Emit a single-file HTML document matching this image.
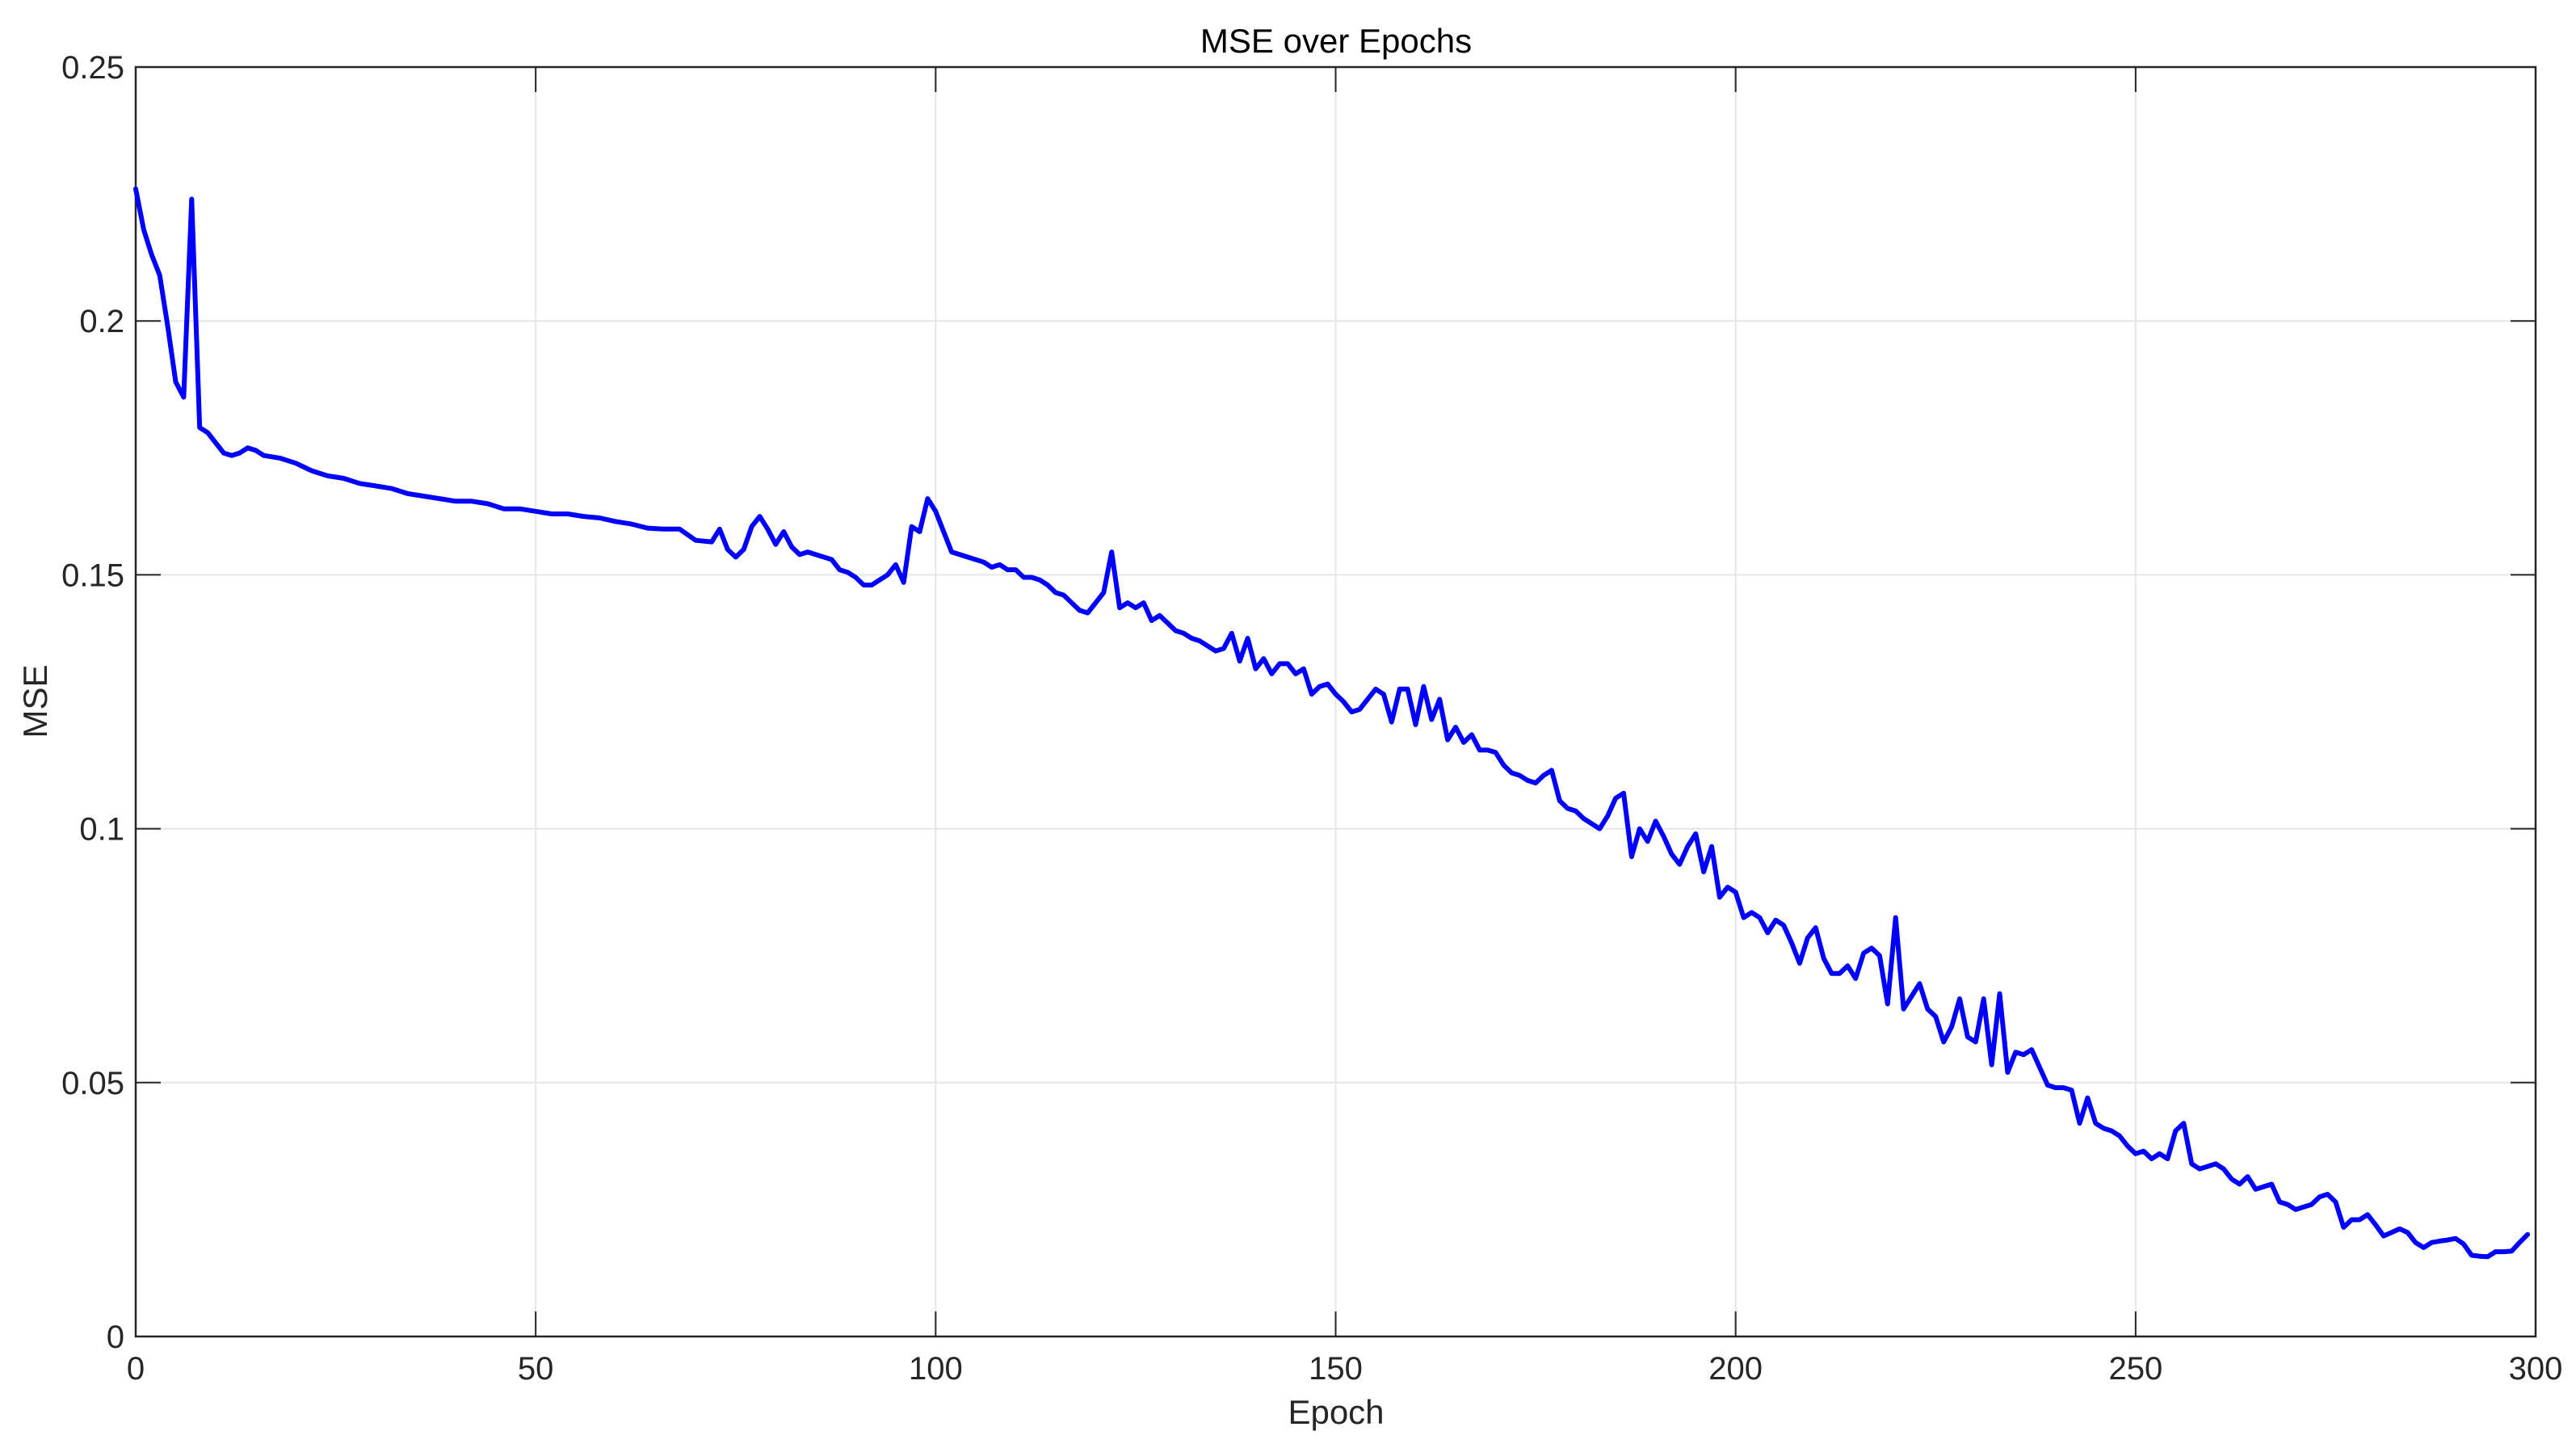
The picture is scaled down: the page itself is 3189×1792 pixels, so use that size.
<!DOCTYPE html>
<html><head><meta charset="utf-8"><style>
html,body{margin:0;padding:0;background:#fff;}
svg{display:block;font-family:"Liberation Sans",sans-serif;}
</style></head><body>
<svg id="s" width="3189" height="1792" xmlns="http://www.w3.org/2000/svg">
<rect width="3189" height="1792" fill="#fff"/>
<g id="grid" stroke="#e6e6e6" stroke-width="2"></g>
<g id="ticks" stroke="#262626" stroke-width="2"></g>
<rect x="168" y="83" width="2971" height="1571" fill="none" stroke="#262626" stroke-width="2.5"/>
<g id="labels" fill="#262626" font-size="40"></g>
<polyline id="line" fill="none" stroke="#0000ff" stroke-width="6" stroke-linejoin="round" stroke-linecap="round"/>
<text x="1654" y="65" font-size="42" text-anchor="middle" fill="#000">MSE over Epochs</text>
<text x="1654" y="1762" font-size="42" text-anchor="middle" fill="#262626">Epoch</text>
<text transform="translate(58,868) rotate(-90)" font-size="42" text-anchor="middle" fill="#262626">MSE</text>
</svg>
<script>
var L=168,R=3139,T=83,B=1654;
function X(e){return L+(R-L)*e/300;}
function Y(v){return B-(B-T)*v/0.25;}
var ns="http://www.w3.org/2000/svg";
function el(p,t,a,txt){var e=document.createElementNS(ns,t);for(var k in a)e.setAttribute(k,a[k]);if(txt!==undefined)e.textContent=txt;document.getElementById(p).appendChild(e);}
for(var e=50;e<300;e+=50){el('grid','line',{x1:X(e),x2:X(e),y1:T,y2:B});}
for(var v=0.05;v<0.249;v+=0.05){el('grid','line',{x1:L,x2:R,y1:Y(v),y2:Y(v)});}
for(var e=0;e<=300;e+=50){el('ticks','line',{x1:X(e),x2:X(e),y1:B,y2:B-31});el('ticks','line',{x1:X(e),x2:X(e),y1:T,y2:T+31});
 el('labels','text',{x:X(e),y:1707,'text-anchor':'middle'},String(e));}
var yl=['0','0.05','0.1','0.15','0.2','0.25'];
for(var i=0;i<=5;i++){var y=Y(i*0.05);el('ticks','line',{x1:L,x2:L+31,y1:y,y2:y});el('ticks','line',{x1:R,x2:R-31,y1:y,y2:y});
 el('labels','text',{x:154,y:y+14,'text-anchor':'end'},yl[i]);}
var d={0:.226,1:.218,2:.213,3:.209,4:.199,5:.188,6:.185,7:.224,8:.179,9:.178,10:.176,11:.174,12:.1735,13:.174,14:.175,15:.1745,16:.1735,18:.173,20:.172,22:.1705,24:.1695,26:.169,28:.168,30:.1675,32:.167,34:.166,36:.1655,38:.165,40:.1645,42:.1645,44:.164,46:.163,48:.163,50:.1625,52:.162,54:.162,56:.1615,58:.1612,60:.1605,62:.16,64:.1592,66:.159,68:.159,70:.1568,72:.1565,73:.159,74:.155,75:.1535,76:.155,77:.1595,78:.1615,79:.159,80:.156,81:.1585,82:.1555,83:.154,84:.1545,86:.1535,87:.153,88:.151,89:.1505,90:.1495,91:.148,92:.148,93:.149,94:.15,95:.152,96:.1485,97:.1595,98:.1585,99:.165,100:.1625,101:.1585,102:.1545,104:.1535,106:.1525,107:.1515,108:.152,109:.151,110:.151,111:.1495,112:.1495,113:.149,114:.148,115:.1465,116:.146,117:.1445,118:.143,119:.1425,120:.1445,121:.1465,122:.1545,123:.1435,124:.1445,125:.1435,126:.1445,127:.141,128:.142,129:.1405,130:.139,131:.1385,132:.1375,133:.137,134:.136,135:.135,136:.1355,137:.1385,138:.133,139:.1375,140:.1315,141:.1335,142:.1305,143:.1325,144:.1325,145:.1305,146:.1315,147:.1265,148:.128,149:.1285,150:.1265,151:.125,152:.123,153:.1235,154:.1255,155:.1275,156:.1265,157:.121,158:.1275,159:.1275,160:.1205,161:.128,162:.1215,163:.1255,164:.1175,165:.12,166:.117,167:.1185,168:.1155,169:.1155,170:.115,171:.1125,172:.111,173:.1105,174:.1095,175:.109,176:.1105,177:.1115,178:.1055,179:.104,180:.1035,181:.102,182:.101,183:.1,184:.1025,185:.106,186:.107,187:.0945,188:.1,189:.0975,190:.1015,191:.0985,192:.095,193:.093,194:.0965,195:.099,196:.0915,197:.0965,198:.0865,199:.0885,200:.0875,201:.0825,202:.0835,203:.0825,204:.0795,205:.082,206:.081,207:.0775,208:.0735,209:.0785,210:.0805,211:.0745,212:.0715,213:.0715,214:.073,215:.0705,216:.0755,217:.0765,218:.075,219:.0655,220:.0825,221:.0645,222:.067,223:.0695,224:.0645,225:.063,226:.058,227:.061,228:.0665,229:.059,230:.058,231:.0665,232:.0535,233:.0675,234:.052,235:.056,236:.0555,237:.0565,238:.053,239:.0495,240:.049,241:.049,242:.0485,243:.042,244:.047,245:.042,246:.041,247:.0405,248:.0395,249:.0375,250:.036,251:.0365,252:.035,253:.036,254:.035,255:.0405,256:.042,257:.034,258:.033,259:.0335,260:.034,261:.033,262:.031,263:.03,264:.0315,265:.029,266:.0295,267:.03,268:.0265,269:.026,270:.025,271:.0255,272:.026,273:.0275,274:.028,275:.0265,276:.0215,277:.023,278:.023,279:.024,280:.022,281:.0198,282:.0205,283:.0212,284:.0205,285:.0185,286:.0175,287:.0185,288:.0188,289:.019,290:.0193,291:.0182,292:.016,293:.0158,294:.0157,295:.0167,296:.0167,297:.0168,298:.0185,299:.0201};
var pts=[];Object.keys(d).map(Number).sort(function(a,b){return a-b}).forEach(function(k){pts.push(X(k).toFixed(1)+','+Y(d[k]).toFixed(1));});
document.getElementById('line').setAttribute('points',pts.join(' '));
</script>
</body></html>
